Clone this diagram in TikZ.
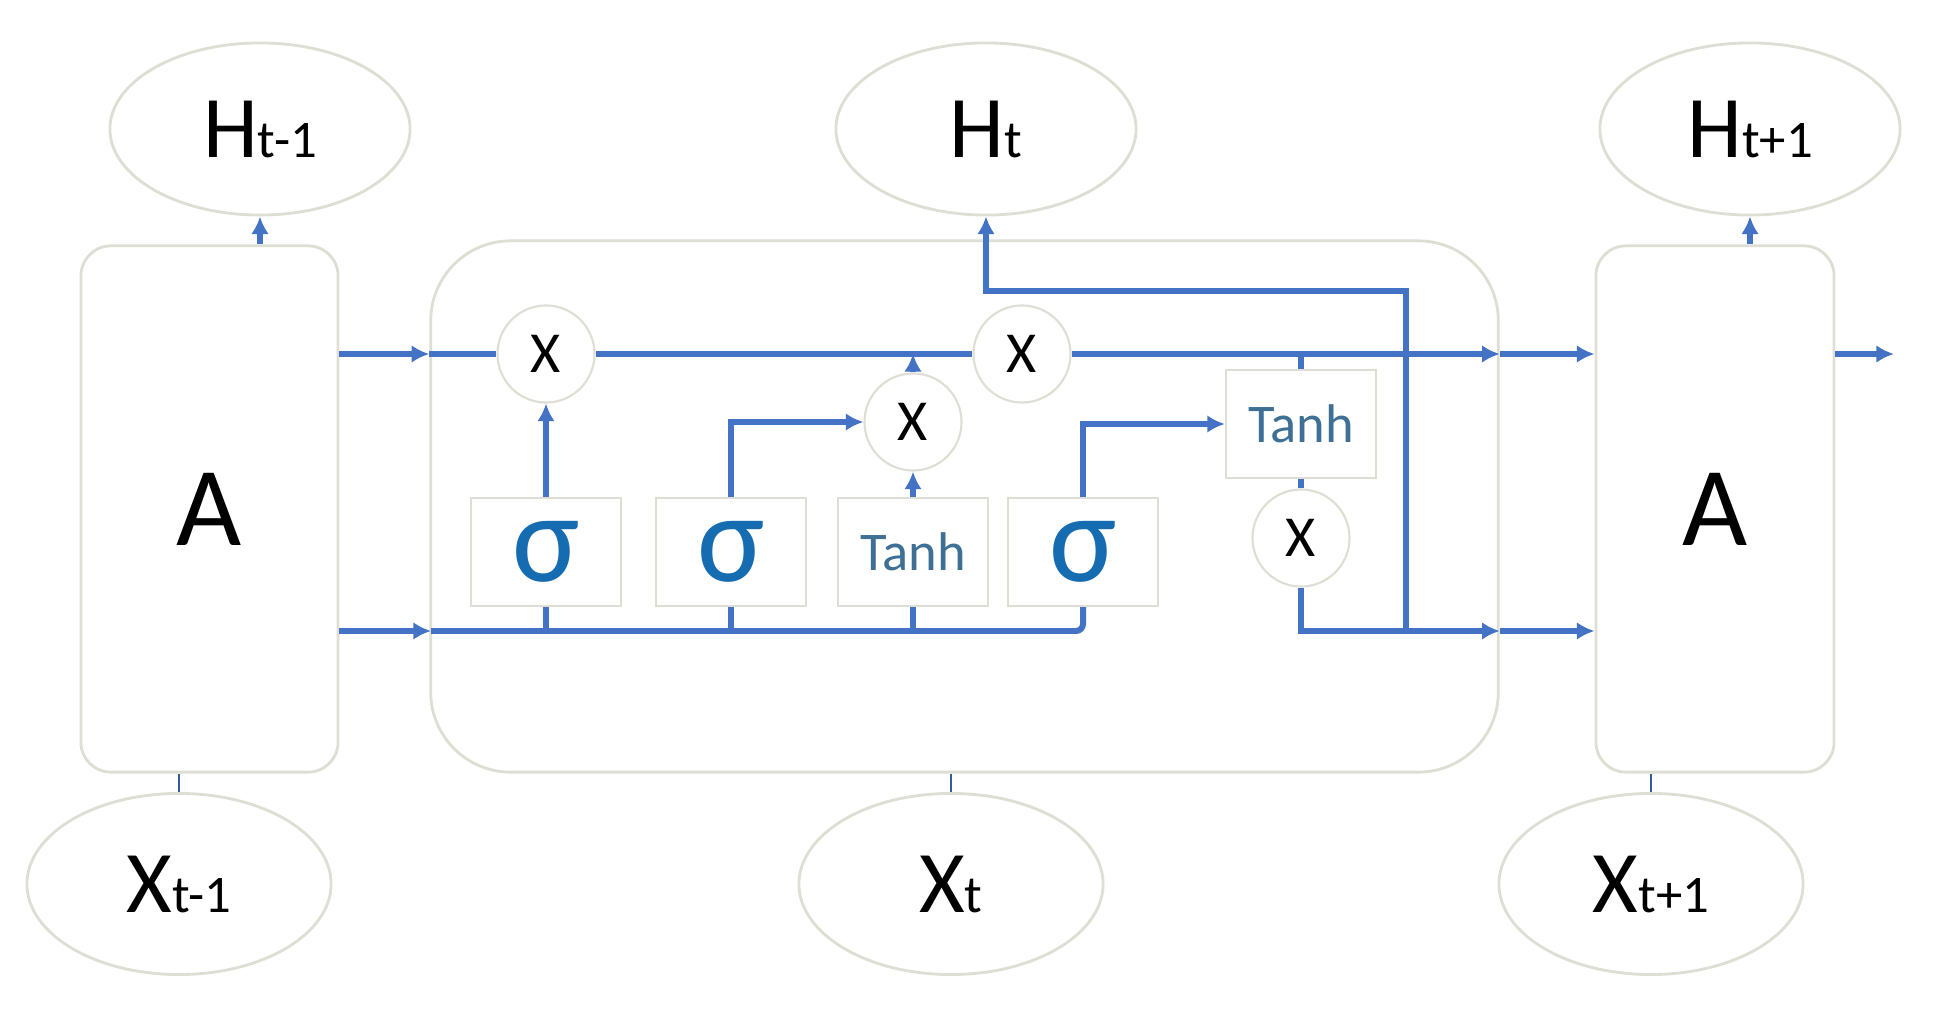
\documentclass[tikz,border=0pt]{standalone}
\usepackage{fontspec}
\setmainfont{Carlito}
\usepackage{tikz}
\usetikzlibrary{arrows.meta,shapes.geometric}
\definecolor{wireblue}{RGB}{68,114,196}
\definecolor{edgegray}{RGB}{222,222,212}
\definecolor{sigblue}{RGB}{22,108,176}
\definecolor{tanhblue}{RGB}{62,112,150}
\newcommand{\idx}[1]{{\fontsize{15}{18}\selectfont #1}}
\tikzset{
  wire/.style={wireblue,line width=1.7pt},
  flow/.style={wire,-{Latex[length=5pt,width=5pt]}},
  link/.style={wireblue!80!black,line width=0.8pt},
  term/.style={ellipse,draw=edgegray,line width=0.8pt,fill=white,
               minimum width=3.0cm,minimum height=1.72cm,inner sep=0pt,
               font=\fontsize{25}{30}\selectfont},
  unit/.style={draw=edgegray,line width=0.8pt,fill=white,rounded corners=0.3cm,
               minimum height=5.26cm,font=\fontsize{32}{38}\selectfont},
  cellbox/.style={draw=edgegray,line width=0.8pt,fill=white,rounded corners=0.8cm,
                  minimum width=10.67cm,minimum height=5.31cm},
  gatebox/.style={draw=edgegray,line width=0.6pt,fill=white,
                  minimum width=1.5cm,minimum height=1.08cm,inner sep=0pt},
  sigbox/.style={gatebox,text=sigblue,font=\fontsize{36}{40}\selectfont},
  tanhbox/.style={gatebox,text=tanhblue,font=\fontsize{15.5}{18}\selectfont},
  mul/.style={circle,draw=edgegray,line width=0.6pt,fill=white,
              minimum size=0.97cm,inner sep=0pt,font=\fontsize{16.5}{20}\selectfont},
}

\begin{document}
\begin{tikzpicture}[x=0.01cm,y=-0.01cm]
  \path[use as bounding box,fill=white] (0,0) rectangle (1960,1022);

  % outputs and inputs
  \node[term] (hprev) at (260,129) {H\idx{t-1}};
  \node[term] (hcur) at (986,129) {H\idx{t}};
  \node[term] (hnext) at (1750,129) {H\idx{t+1}};
  \node[term,minimum width=3.04cm,minimum height=1.81cm] (xprev) at (179,884) {X\idx{t-1}};
  \node[term,minimum width=3.04cm,minimum height=1.81cm] (xcur) at (951,884) {X\idx{t}};
  \node[term,minimum width=3.04cm,minimum height=1.81cm] (xnext) at (1651,884) {X\idx{t+1}};

  % repeating units
  \node[unit,minimum width=2.57cm] (aprev) at (209.5,509) {A};
  \node[unit,minimum width=2.38cm] (anext) at (1715,509) {A};
  \node[cellbox] (cell) at (964.5,506.5) {};

  % gates
  \node[sigbox] (sigf) at (546,552) {σ};
  \node[sigbox] (sigi) at (731,552) {σ};
  \node[tanhbox] (tanhc) at (913,552) {Tanh};
  \node[sigbox] (sigo) at (1083,552) {σ};
  \node[tanhbox] (tanho) at (1301,424) {Tanh};

  \node[mul] (mulf) at (546,354) {X};
  \node[mul] (mulc) at (1022,354) {X};
  \node[mul] (muli) at (913,422) {X};
  \node[mul] (mulo) at (1301,538) {X};

  \coordinate (lowL) at (431,631);
  \coordinate (tap) at (1406,631);
  \coordinate (bend) at (1406,291);
  \coordinate (outc) at (1894,354);

  % short links to the terms
  \draw[flow] (hprev.south |- aprev.north) -- (hprev.south);
  \draw[flow] (hnext.south |- anext.north) -- (hnext.south);
  \draw[link] (xprev.north) -- (xprev.north |- aprev.south);
  \draw[link] (xcur.north) -- (xcur.north |- cell.south);
  \draw[link] (xnext.north) -- (xnext.north |- anext.south);

  % cell state line
  \draw[flow] (aprev.east |- mulf) -- (cell.west |- mulf);
  \draw[wire] (cell.west |- mulf) -- (mulf.west);
  \draw[wire] (mulf.east) -- (mulc.west);
  \draw[flow] (mulc.east) -- (cell.east |- mulc);
  \draw[flow] (cell.east |- mulc) -- (anext.west |- mulc);
  \draw[flow] (anext.east |- mulc) -- (outc);

  % hidden line
  \draw[flow] (aprev.east |- lowL) -- (lowL);
  \draw[wire,rounded corners=2pt] (lowL) -- (lowL -| sigo.south) -- (sigo.south);
  \foreach \g in {sigf,sigi,tanhc}
    \draw[wire] (lowL -| \g.south) -- (\g.south);

  % gate outputs
  \draw[flow] (sigf.north) -- (mulf.south);
  \draw[flow] (sigi.north) |- (muli.west);
  \draw[flow] (tanhc.north) -- (muli.south);
  \draw[flow] (muli.north) -- (muli.north |- mulf);
  \draw[flow] (sigo.north) |- (tanho.west);
  \draw[wire] (tanho.north |- mulf) -- (tanho.north);
  \draw[wire] (tanho.south) -- (mulo.north);
  \draw[flow] (mulo.south) |- (cell.east |- lowL);
  \draw[flow] (cell.east |- lowL) -- (anext.west |- lowL);
  \draw[flow] (tap) |- (hcur.south |- bend) -- (hcur.south);
\end{tikzpicture}
\end{document}
